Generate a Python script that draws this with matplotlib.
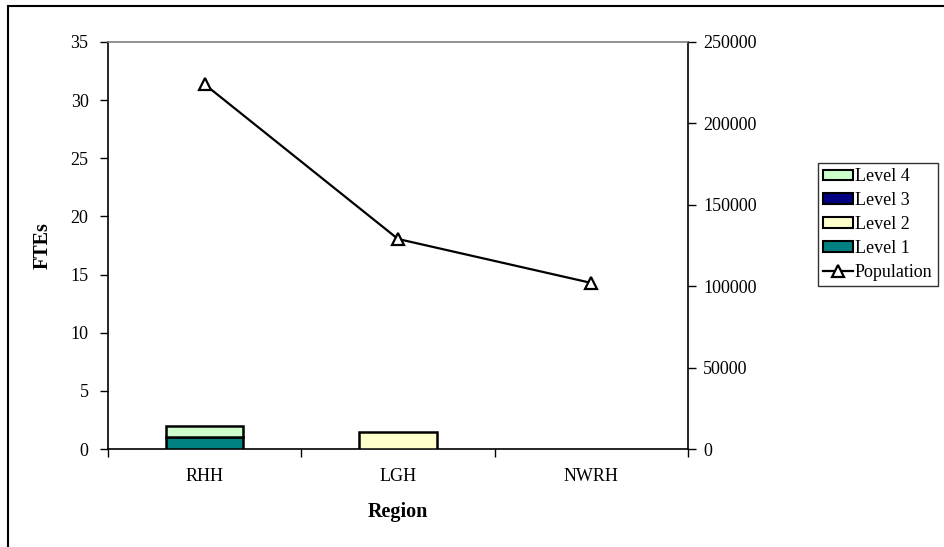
import numpy as np
import matplotlib
matplotlib.use('Agg')
import matplotlib.pyplot as plt
from matplotlib.patches import Rectangle


regions = ['RHH', 'LGH', 'NWRH']
level_1 = [1, 0, 0]
level_2 = [0, 1.5, 0]
level_3 = [0, 0, 0]
level_4 = [1, 0, 0]
population = [224000, 129000, 102000]

fte_ticks = [0, 5, 10, 15, 20, 25, 30, 35]
pop_ticks = [0, 50000, 100000, 150000, 200000, 250000]


def main():
    plt.rcParams['font.family'] = ['Liberation Serif', 'DejaVu Serif']
    plt.rcParams['font.size'] = 13

    fig = plt.figure(figsize=(9.45, 5.47), dpi=100)
    ax = fig.add_axes([108 / 945, 1 - 449 / 547, 580 / 945, 407 / 547])

    x = np.arange(len(regions))
    width = 0.4
    bottom = np.zeros(len(regions))
    series = [('Level 1', level_1, '#008080'),
              ('Level 2', level_2, '#FFFFCC'),
              ('Level 3', level_3, '#000080'),
              ('Level 4', level_4, '#CCFFCC')]
    handles = {}
    for name, vals, col in series:
        vals = np.array(vals, dtype=float)
        # pas de contour pour les barres vides
        lw = [1.8 if v > 0 else 0 for v in vals]
        ax.bar(x, vals, width, bottom=bottom, color=col,
               edgecolor='black', linewidth=lw, zorder=3)
        handles[name] = Rectangle((0, 0), 1, 1, facecolor=col,
                                  edgecolor='black', linewidth=1.5)
        bottom += vals

    ax.set_xlim(-0.5, len(regions) - 0.5)
    ax.set_ylim(0, 35)
    ax.set_yticks(fte_ticks)
    ax.set_xticks(x)
    ax.set_xticklabels(regions)
    ax.set_xticks(np.arange(len(regions) + 1) - 0.5, minor=True)
    ax.tick_params(axis='x', which='major', length=0, pad=14)
    ax.tick_params(axis='x', which='minor', length=6, width=1,
                   direction='out')
    ax.tick_params(axis='y', length=6, width=1, direction='out', pad=8)

    ax.set_ylabel('FTEs', fontweight='bold', fontsize=14.5)
    ax.yaxis.set_label_coords(-0.095, 0.5)
    ax.set_xlabel('Region', fontweight='bold', fontsize=14.5)
    ax.xaxis.set_label_coords(0.5, -0.13)

    for side in ['left', 'bottom', 'right']:
        ax.spines[side].set_linewidth(1.2)
        ax.spines[side].set_color('black')
    ax.spines['top'].set_color('#808080')
    ax.spines['top'].set_linewidth(1.2)

    # axe de droite pour la population
    ax2 = ax.twinx()
    line, = ax2.plot(x, population, color='black', linewidth=1.6,
                     marker='^', markersize=9, markerfacecolor='white',
                     markeredgecolor='black', markeredgewidth=1.6,
                     zorder=4)
    ax2.set_ylim(0, 250000)
    ax2.set_yticks(pop_ticks)
    ax2.tick_params(axis='y', length=6, width=1, direction='out', pad=5)
    for side in ['left', 'bottom', 'right', 'top']:
        ax2.spines[side].set_visible(False)

    # legende : niveaux du haut vers le bas puis la population
    leg_handles = [handles['Level 4'], handles['Level 3'],
                   handles['Level 2'], handles['Level 1'], line]
    leg_labels = ['Level 4', 'Level 3', 'Level 2', 'Level 1', 'Population']
    leg = fig.legend(leg_handles, leg_labels, loc='upper left',
                     bbox_to_anchor=(818 / 945, 1 - 163 / 547),
                     frameon=True, fancybox=False, borderpad=0.3,
                     handlelength=1.65, handleheight=0.55, handletextpad=0.1,
                     labelspacing=0.38, borderaxespad=0, fontsize=13)
    leg.get_frame().set_edgecolor('black')
    leg.get_frame().set_linewidth(1.0)

    # cadre du graphique (haut et gauche)
    fig.add_artist(Rectangle((8 / 945, -0.05), 1.0, 1 - 6 / 547 + 0.05,
                             transform=fig.transFigure, fill=False,
                             edgecolor='black', linewidth=1.5))

    fig.savefig('out.png', dpi=100)


if __name__ == '__main__':
    main()
